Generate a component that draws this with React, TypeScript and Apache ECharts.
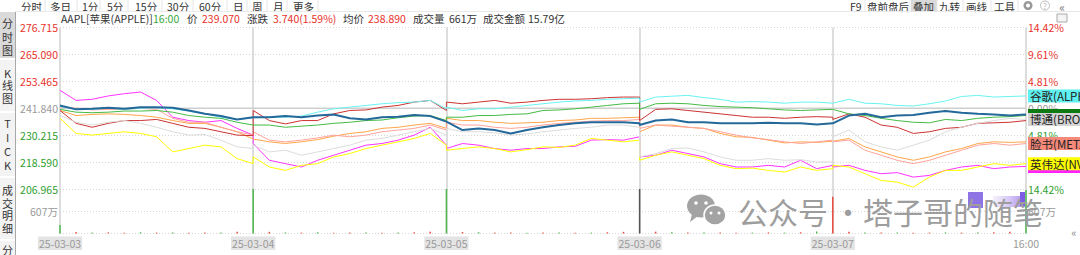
import React, { useEffect, useRef } from 'react';
import * as echarts from 'echarts';

// ---------- data ----------
const DAYS = ['25-03-03', '25-03-04', '25-03-05', '25-03-06', '25-03-07'];
const X_LABELS = [...DAYS, '16:00'];
const SLOTS_PER_DAY = 12; // 13 samples per day, the last one shared with the next day's open position
const LEFT_TICKS = ['206.965', '218.590', '230.215', '241.840', '253.465', '265.090', '276.715'];
const RIGHT_TICKS = ['14.42%', '9.61%', '4.81%', '0.00%', '4.81%', '9.61%', '14.42%'];
const VOL_TICKS = ['', '607万', ''];
const PCT_MAX = 14.43;
const PCT_STEP = 4.81;
const VOL_MAX = 1214;
const VOL_STEP = 607;
const BASELINE = 0;

// cumulative % change against each stock's close before 25-03-03, 13 samples per day
const AAPL = [
  0.5, -0.2, -0.1, 0.1, -0.1, 0.2, 0.2, 0.1, -0.4, -1.0, -1.4, -2.0, -1.6,
  -1.7, -1.6, -1.4, -1.6, -1.3, -1.1, -1.8, -2.0, -1.6, -1.5, -1.2, -1.4, -2.4,
  -2.5, -3.9, -3.6, -3.9, -4.5, -3.9, -3.4, -3.0, -2.7, -2.5, -2.5, -2.5, -2.7,
  -3.0, -2.2, -2.0, -2.5, -2.5, -2.7, -2.7, -2.7, -2.6, -2.7, -2.7, -2.9, -2.7,
  -2.7, -1.3, -1.0, -1.6, -1.3, -1.2, -0.8, -0.5, -0.8, -1.0, -1.1, -1.3, -1.1,
];
const GOOGLE = [
  0.3, -0.2, -0.2, 0.0, -0.2, 0.0, 0.1, -0.1, -0.5, -1.0, -1.6, -2.0, -1.7,
  -1.8, -1.6, -1.6, -1.4, -0.7, -0.1, 0.2, 0.5, 0.8, 1.0, 1.1, 1.4, -0.1,
  0.2, -0.4, -0.1, -0.1, 0.2, 0.5, 0.8, 1.1, 1.3, 1.4, 1.6, 1.7, 1.8,
  1.1, 2.0, 2.15, 2.3, 1.9, 1.6, 1.1, 1.2, 1.1, 0.9, 1.1, 1.1, 0.9,
  0.9, 1.6, 0.9, 0.8, 0.5, 0.4, 0.8, 1.3, 2.1, 2.3, 2.0, 2.1, 2.2,
];
const GREEN_LINE = [
  -0.2, -0.7, -0.8, -0.7, -0.5, -0.5, -0.4, -0.7, -1.3, -1.6, -1.8, -2.5, -3.0,
  -3.0, -3.0, -3.4, -3.2, -3.0, -2.7, -2.5, -2.2, -2.1, -1.7, -1.4, -1.3, -2.2,
  -1.6, -1.6, -1.3, -1.3, -1.1, -1.0, -0.4, -0.3, -0.1, 0.2, 0.5, 0.8, 0.9,
  -0.2, 0.8, 0.9, 0.8, 0.5, 0.3, 0.2, 0.1, -0.1, -0.3, -0.4, -0.3, -0.2,
  -0.1, -1.0, -1.3, -1.8, -2.2, -2.5, -2.6, -2.0, -2.2, -1.8, -1.6, -1.5, -1.3,
];
const RED_LINE = [
  -0.4, -2.7, -3.4, -2.7, -2.2, -2.2, -2.0, -2.7, -3.4, -3.6, -4.2, -4.8, -4.9,
  -0.4, -2.2, -2.8, -2.2, -2.2, -1.0, -0.4, -0.3, 0.2, 0.5, 1.1, 1.4, -0.4,
  1.1, 0.8, 1.1, 1.4, 0.9, 1.1, 1.4, 1.6, 1.6, 1.7, 1.9, 2.0, 2.0,
  -2.2, -0.2, -0.1, -0.4, -0.7, -1.0, -1.3, -1.6, -1.6, -1.8, -1.6, -1.5, -1.6,
  -2.0, -1.0, -1.6, -3.0, -3.4, -4.5, -4.2, -3.6, -3.4, -2.7, -2.6, -2.5, -2.2,
];
const BROADCOM = [
  -1.3, -2.5, -3.0, -2.5, -2.2, -2.7, -3.4, -4.2, -4.8, -4.7, -5.7, -6.9, -7.2,
  -6.6, -7.8, -7.5, -8.4, -7.8, -7.2, -6.6, -5.7, -5.4, -4.8, -4.2, -3.6, -4.8,
  -3.6, -4.2, -4.2, -4.4, -4.8, -4.6, -4.2, -3.9, -3.6, -3.4, -3.0, -3.0, -3.4,
  -8.7, -8.1, -7.2, -7.1, -7.8, -8.7, -9.3, -9.3, -9.0, -9.3, -9.2, -9.6, -9.6,
  -5.1, -3.9, -6.0, -6.9, -7.5, -6.6, -5.7, -4.2, -3.4, -2.7, -2.2, -1.8, -2.0,
];
const ORANGE_LINE = [
  -0.4, -1.3, -1.1, -1.0, -1.1, -1.3, -1.6, -2.2, -2.7, -2.7, -3.4, -4.2, -5.5,
  -5.4, -6.0, -6.3, -6.0, -5.6, -5.0, -4.5, -4.2, -3.6, -3.4, -3.0, -2.7, -3.6,
  -1.8, -2.2, -2.2, -2.5, -2.7, -2.6, -2.5, -2.2, -2.1, -1.8, -1.8, -1.7, -1.6,
  -4.2, -3.0, -3.0, -3.4, -3.6, -4.5, -5.1, -5.2, -5.7, -6.2, -6.0, -6.1, -5.9,
  -6.0, -5.4, -6.9, -7.8, -8.7, -9.3, -8.7, -7.8, -7.2, -6.3, -6.0, -6.1, -6.0,
];
const META = [
  0.2, 0.0, -0.3, -0.2, -0.2, 0.0, -0.2, -1.8, -2.5, -2.5, -3.4, -4.2, -4.8,
  -4.2, -5.7, -6.0, -5.7, -5.3, -4.8, -5.1, -4.8, -4.2, -3.9, -3.6, -3.0, -3.9,
  -2.5, -3.0, -3.0, -3.4, -3.6, -3.4, -3.0, -2.7, -2.5, -2.3, -2.2, -2.2, -2.0,
  -3.6, -3.0, -3.2, -3.4, -3.6, -4.2, -4.8, -5.3, -5.6, -6.0, -6.3, -6.0, -5.7,
  -6.0, -5.7, -7.5, -8.4, -9.3, -9.9, -9.3, -8.4, -7.5, -6.6, -6.3, -6.6, -6.3,
];
const MAGENTA_LINE = [
  3.2, 1.4, 1.6, 2.2, 2.6, 2.9, 1.4, -1.6, -2.2, -2.5, -2.2, -3.6, -4.8,
  -6.3, -9.3, -9.9, -10.5, -9.3, -8.4, -7.5, -6.6, -6.3, -5.7, -4.8, -3.4, -6.6,
  -7.2, -6.3, -6.6, -7.2, -7.5, -7.2, -7.2, -6.9, -6.8, -5.7, -5.6, -5.7, -5.1,
  -8.7, -8.4, -7.5, -8.1, -8.7, -9.9, -10.5, -10.5, -10.2, -10.5, -9.3, -10.8, -10.2,
  -10.5, -10.2, -11.1, -11.7, -11.5, -12.3, -12.0, -11.1, -10.5, -10.2, -10.8, -10.5, -10.4,
];
const NVIDIA = [
  -1.8, -4.5, -4.8, -4.5, -4.2, -4.5, -5.1, -7.8, -7.2, -6.6, -6.9, -9.0, -9.9,
  -8.7, -10.5, -11.1, -10.2, -9.9, -8.7, -8.1, -7.2, -6.6, -6.0, -5.4, -4.5, -6.6,
  -7.5, -7.2, -6.9, -7.2, -7.8, -7.4, -6.9, -7.0, -6.6, -5.4, -5.7, -6.0, -5.7,
  -9.3, -8.4, -7.8, -8.4, -9.0, -10.2, -10.8, -10.7, -11.1, -11.4, -10.5, -11.1, -10.8,
  -10.2, -10.5, -11.7, -12.9, -13.2, -14.1, -12.3, -11.1, -11.1, -10.5, -9.9, -10.2, -9.9,
];

// volume in 万 shares per slot (index = slot position 0..60), direction 1 up / -1 down / 0 flat
const VOLUME = [
  230, 40, 25, 30, 20, 35, 25, 30, 20, 25, 30, 45,
  1214, 45, 30, 25, 35, 20, 30, 25, 20, 30, 35, 50,
  1214, 40, 35, 25, 30, 20, 25, 30, 20, 25, 35, 45,
  1214, 50, 35, 30, 25, 30, 20, 25, 30, 25, 35, 55,
  1000, 45, 30, 25, 30, 20, 25, 30, 25, 30, 35, 50,
  1190,
];
const VOL_DIR = [
  -1, 1, -1, 1, 1, -1, 1, -1, 1, 1, -1, 1,
  -1, 1, -1, 1, -1, 1, 1, -1, 1, -1, 1, 1,
  -1, 1, -1, 1, 1, -1, 1, -1, 1, -1, 1, 1,
  0, 1, -1, 1, -1, 1, 1, -1, 1, -1, 1, -1,
  1, 1, -1, 1, -1, 1, 1, -1, 1, -1, 1, 1,
  -1,
];

const FONT = '"Noto Sans CJK SC","Noto Sans",sans-serif';
const RED = '#e8312a';
const GREEN = '#2e9e2e';
const GRAYTXT = '#9a9a9a';

function toPoints(vals: number[]) {
  const pts: number[][] = [];
  vals.forEach((v, i) => {
    const d = Math.floor(i / (SLOTS_PER_DAY + 1));
    const k = i % (SLOTS_PER_DAY + 1);
    pts.push([d * SLOTS_PER_DAY + k, v]);
  });
  return pts;
}

type Def = { name: string; data: number[]; color: string; width: number; tag?: string; tagBg?: string };

const DEFS: Def[] = [
  { name: '特斯拉', data: MAGENTA_LINE, color: '#ff33ff', width: 1, tag: '\u3000\u3000\u3000\u3000\u3000', tagBg: '#ff22ff' },
  { name: '英伟达', data: NVIDIA, color: '#ffff00', width: 1, tag: '英伟达(NVIDIA)', tagBg: '#ffff00' },
  { name: '橙', data: ORANGE_LINE, color: '#ffa54a', width: 1 },
  { name: '脸书', data: META, color: '#ffa39a', width: 1, tag: '脸书(META)', tagBg: '#f7897a' },
  { name: '红', data: RED_LINE, color: '#cc3333', width: 1 },
  { name: '绿', data: GREEN_LINE, color: '#45bb45', width: 1, tag: '\u3000\u3000\u3000\u3000\u3000', tagBg: '#0f7a12' },
  { name: '博通', data: BROADCOM, color: '#dcdcdc', width: 1, tag: '博通(BROADCOM)', tagBg: '#d4d4d4' },
  { name: '谷歌', data: GOOGLE, color: '#6af2f2', width: 1, tag: '谷歌(ALPHABET)', tagBg: '#5ff0f0' },
  { name: 'AAPL', data: AAPL, color: '#24699a', width: 2 },
];

function buildOption() {
  const lineSeries: any[] = DEFS.map((d) => ({
    type: 'line',
    name: d.name,
    xAxisIndex: 0,
    yAxisIndex: 0,
    data: toPoints(d.data),
    showSymbol: false,
    symbol: 'none',
    smooth: false,
    lineStyle: { color: d.color, width: d.width },
    itemStyle: { color: d.color },
    emphasis: { disabled: true },
    endLabel: d.tag
      ? {
          show: true,
          formatter: d.tag,
          backgroundColor: d.tagBg,
          color: '#222',
          fontFamily: FONT,
          fontSize: 11.5,
          lineHeight: 12,
          padding: [1, 2, 0, 2],
          distance: 2,
        }
      : { show: false },
  }));

  const baseSeries = {
    type: 'line',
    name: 'base',
    xAxisIndex: 0,
    yAxisIndex: 0,
    data: [[0, BASELINE], [SLOTS_PER_DAY * DAYS.length, BASELINE]],
    showSymbol: false,
    symbol: 'none',
    lineStyle: { color: '#cfcfcf', width: 1.5 },
    z: 1,
    emphasis: { disabled: true },
  };

  const volSeries = {
    type: 'bar',
    name: 'vol',
    xAxisIndex: 1,
    yAxisIndex: 2,
    barWidth: 1.5,
    data: VOLUME.map((v, i) => ({
      value: [i, v],
      itemStyle: { color: VOL_DIR[i] > 0 ? '#e84a3d' : VOL_DIR[i] < 0 ? '#4db84d' : '#555555' },
    })),
    emphasis: { disabled: true },
  };

  const dotted = { color: '#d6d6d6', type: [1, 2] as any, width: 1 };
  const labelBase = { fontFamily: FONT, fontSize: 10.5 };
  const pctColor = (v: any) => (Number(v) > 0.01 ? RED : Number(v) < -0.01 ? GREEN : GRAYTXT);

  const g: any[] = [];
  // top toolbar
  const tbLeft: [string, number][] = [
    ['分时', 21], ['多日', 50], ['1分', 82], ['5分', 107], ['15分', 135], ['30分', 167], ['60分', 199],
    ['日', 233], ['周', 252], ['月', 273], ['更多', 293],
  ];
  const tbRight: [string, number][] = [
    ['F9', 850], ['盘前盘后', 867], ['叠加', 913], ['九转', 939], ['画线', 966], ['工具', 994],
  ];
  g.push({ type: 'rect', shape: { x: 911, y: 0, width: 26, height: 11 }, style: { fill: '#d9d9d9' } });
  [...tbLeft, ...tbRight].forEach(([t, x]) => {
    g.push({ type: 'text', x, y: 6.5, style: { text: t, fill: '#333', font: `10.5px ${FONT}`, textVerticalAlign: 'middle' } });
  });
  [45, 77, 100, 128, 162, 193, 227, 247, 267, 287, 318, 865, 910, 937, 963, 991, 1018].forEach((x) => {
    g.push({ type: 'line', shape: { x1: x, y1: 0, x2: x, y2: 11 }, style: { stroke: '#e6e6e6', lineWidth: 1 } });
  });
  g.push({ type: 'line', shape: { x1: 15, y1: 11.5, x2: 1080, y2: 11.5 }, style: { stroke: '#e8e8e8', lineWidth: 1 } });
  // toolbar icons
  g.push({ type: 'ring', shape: { cx: 1028, cy: 5.5, r: 4.5, r0: 2 }, style: { fill: '#999' } });
  g.push({ type: 'circle', shape: { cx: 1045, cy: 5.5, r: 4.5 }, style: { fill: 'none', stroke: '#bbb', lineWidth: 1 } });
  g.push({ type: 'text', x: 1045, y: 5.5, style: { text: '?', fill: '#bbb', font: `8px ${FONT}`, textAlign: 'center', textVerticalAlign: 'middle' } });
  g.push({ type: 'text', x: 1062, y: 6, style: { text: '«', fill: '#777', font: `12px ${FONT}`, textAlign: 'center', textVerticalAlign: 'middle' } });
  g.push({ type: 'rect', shape: { x: 1057, y: 14, width: 10, height: 8 }, style: { fill: '#f4f4f4', stroke: '#aaa', lineWidth: 1 } });

  // left sidebar
  g.push({ type: 'rect', shape: { x: 0, y: 12, width: 15, height: 243 }, style: { fill: '#f3f3f3' } });
  g.push({ type: 'rect', shape: { x: 0, y: 12, width: 15, height: 47 }, style: { fill: '#dadada' } });
  g.push({ type: 'line', shape: { x1: 15.5, y1: 12, x2: 15.5, y2: 255 }, style: { stroke: '#a8a8a8', lineWidth: 1 } });
  [59, 112, 177, 240].forEach((y) => {
    g.push({ type: 'line', shape: { x1: 0, y1: y, x2: 15, y2: y }, style: { stroke: '#ffffff', lineWidth: 2 } });
  });
  const side: [string, number, number][] = [
    ['分\n时\n图', 36.5, 13.5],
    ['K\n线\n图', 85, 12.5],
    ['T\nI\nC\nK', 144, 14],
    ['成\n交\n明\n细', 209, 12.7],
    ['分', 250, 12],
  ];
  side.forEach(([t, y, lh]) => {
    g.push({ type: 'text', x: 7.5, y, style: { text: t, fill: '#333', font: `11px ${FONT}`, lineHeight: lh, textAlign: 'center', textVerticalAlign: 'middle' } });
  });

  // info line
  const info: [string, number, string][] = [
    ['AAPL[苹果(APPLE)]', 61, '#333'], ['16:00', 153, '#3aa83a'], ['价', 187, '#333'], ['239.070', 202, RED],
    ['涨跌', 247, '#333'], ['3.740(1.59%)', 273, RED], ['均价', 343, '#333'], ['238.890', 368, RED],
    ['成交量', 413, '#333'], ['661万', 449, '#333'], ['成交金额', 483, '#333'], ['15.79亿', 528, '#333'],
  ];
  info.forEach(([t, x, c]) => {
    g.push({ type: 'text', x, y: 18.5, style: { text: t, fill: c, font: `10.5px ${FONT}`, textVerticalAlign: 'middle' } });
  });

  // watermark
  g.push({ type: 'ellipse', z: 100, shape: { cx: 701, cy: 206, rx: 14, ry: 11.5 }, style: { fill: '#a3a3a3' } });
  g.push({ type: 'polygon', z: 100, shape: { points: [[692, 214], [690, 222], [698, 216]] }, style: { fill: '#a3a3a3' } });
  g.push({ type: 'circle', z: 100, shape: { cx: 696, cy: 203, r: 1.8 }, style: { fill: '#fff' } });
  g.push({ type: 'circle', z: 100, shape: { cx: 706, cy: 203, r: 1.8 }, style: { fill: '#fff' } });
  g.push({ type: 'ellipse', z: 101, shape: { cx: 715, cy: 215, rx: 11, ry: 10 }, style: { fill: '#a3a3a3', stroke: '#fff', lineWidth: 1.5 } });
  g.push({ type: 'circle', z: 101, shape: { cx: 711, cy: 213, r: 1.5 }, style: { fill: '#fff' } });
  g.push({ type: 'circle', z: 101, shape: { cx: 719, cy: 213, r: 1.5 }, style: { fill: '#fff' } });
  g.push({ type: 'rect', z: 99, shape: { x: 968, y: 192, width: 15, height: 16 }, style: { fill: '#7b5ce2', opacity: 0.85 } });
  g.push({
    type: 'rect', z: 99, shape: { x: 993, y: 196, width: 32, height: 11 },
    style: { fill: new echarts.graphic.LinearGradient(0, 0, 1, 0, [{ offset: 0, color: 'rgba(200,180,240,0.2)' }, { offset: 1, color: 'rgba(150,110,230,0.8)' }]) },
  });
  g.push({ type: 'rect', z: 99, shape: { x: 1020, y: 192, width: 5, height: 14 }, style: { fill: '#7b5ce2' } });
  g.push({ type: 'text', z: 100, x: 738, y: 211, style: { text: '公众号', fill: '#9d9d9d', font: `30px ${FONT}`, textVerticalAlign: 'middle' } });
  g.push({ type: 'text', z: 100, x: 848, y: 211, style: { text: '·', fill: '#9d9d9d', font: `30px ${FONT}`, textAlign: 'center', textVerticalAlign: 'middle' } });
  g.push({ type: 'text', z: 100, x: 863, y: 211, style: { text: '塔子哥的随笔', fill: '#9d9d9d', font: `30px ${FONT}`, textVerticalAlign: 'middle' } });
  g.push({ type: 'text', x: 1074, y: 232, style: { text: '«', fill: '#888', font: `11px ${FONT}`, textAlign: 'center', textVerticalAlign: 'middle' } });

  return {
    animation: false,
    backgroundColor: '#ffffff',
    textStyle: { fontFamily: FONT },
    grid: [
      { left: 60, right: 54, top: 27.5, height: 161.5 },
      { left: 60, right: 54, top: 189, height: 44.5 },
    ],
    xAxis: [0, 1].map((gi) => ({
      type: 'value',
      gridIndex: gi,
      min: 0,
      max: SLOTS_PER_DAY * DAYS.length,
      interval: SLOTS_PER_DAY,
      axisLine: { show: false },
      axisTick: { show: false },
      splitLine: { show: true, lineStyle: { color: '#d2d2d2', width: 1.5 } },
      axisLabel:
        gi === 0
          ? { show: false }
          : {
              show: true,
              margin: 3,
              formatter: (_v: number, idx: number) => (idx < DAYS.length ? `{d|${X_LABELS[idx]}}` : `{t|${X_LABELS[idx]}}`),
              rich: {
                d: { backgroundColor: '#e4e4e4', color: GRAYTXT, fontSize: 10.5, fontFamily: FONT, padding: [2, 1, 1, 1] },
                t: { color: GRAYTXT, fontSize: 10.5, fontFamily: FONT, padding: [2, 1, 1, 1] },
              },
            },
    })),
    yAxis: [
      {
        type: 'value', gridIndex: 0, position: 'left', min: -PCT_MAX, max: PCT_MAX, interval: PCT_STEP,
        axisLine: { show: false }, axisTick: { show: false },
        splitLine: { show: true, lineStyle: dotted },
        axisLabel: { ...labelBase, margin: 2, formatter: (_v: number, i: number) => LEFT_TICKS[i] ?? '', color: pctColor },
      },
      {
        type: 'value', gridIndex: 0, position: 'right', min: -PCT_MAX, max: PCT_MAX, interval: PCT_STEP,
        axisLine: { show: false }, axisTick: { show: false }, splitLine: { show: false },
        axisLabel: { ...labelBase, margin: 2, formatter: (_v: number, i: number) => RIGHT_TICKS[i] ?? '', color: pctColor },
      },
      {
        type: 'value', gridIndex: 1, position: 'left', min: 0, max: VOL_MAX, interval: VOL_STEP,
        axisLine: { show: false }, axisTick: { show: false },
        splitLine: { show: true, lineStyle: dotted },
        axisLabel: { ...labelBase, margin: 2, color: GRAYTXT, formatter: (_v: number, i: number) => VOL_TICKS[i] ?? '' },
      },
      {
        type: 'value', gridIndex: 1, position: 'right', min: 0, max: VOL_MAX, interval: VOL_STEP,
        axisLine: { show: false }, axisTick: { show: false }, splitLine: { show: false },
        axisLabel: { ...labelBase, margin: 2, color: GRAYTXT, formatter: (_v: number, i: number) => VOL_TICKS[i] ?? '' },
      },
    ],
    series: [baseSeries, ...lineSeries, volSeries],
    graphic: { elements: g },
  };
}

export default function App() {
  const ref = useRef<HTMLDivElement>(null);
  useEffect(() => {
    if (!ref.current) return;
    const chart = echarts.init(ref.current, undefined, { renderer: 'svg' });
    chart.setOption(buildOption() as any);
    return () => chart.dispose();
  }, []);
  return <div ref={ref} style={{ position: 'fixed', left: 0, top: 0, width: 1080, height: 255 }} />;
}
